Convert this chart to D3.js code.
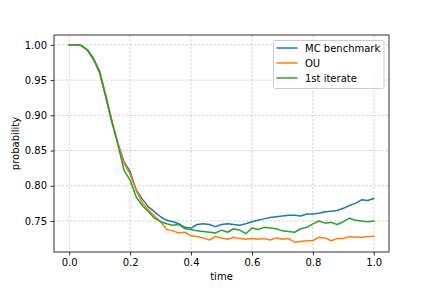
<!DOCTYPE html>
<html>
<head>
<meta charset="utf-8">
<script src="https://cdn.jsdelivr.net/npm/d3@7"></script>
<style>
  body { margin: 0; background: #fff; }
  text { font-family: "DejaVu Sans", sans-serif; }
</style>
</head>
<body>
<script>
// time grid (0 .. 1, step 0.02)
const time = [0, .02, .04, .06, .08, .10, .12, .14, .16, .18, .20, .22, .24, .26, .28, .30,
  .32, .34, .36, .38, .40, .42, .44, .46, .48, .50, .52, .54, .56, .58, .60, .62, .64, .66,
  .68, .70, .72, .74, .76, .78, .80, .82, .84, .86, .88, .90, .92, .94, .96, .98, 1.00];

const mcBenchmark = [1.000, 1.000, 0.999, 0.992, 0.979, 0.960, 0.926, 0.890, 0.860, 0.834,
  0.820, 0.794, 0.781, 0.770, 0.763, 0.756, 0.751, 0.749, 0.746, 0.741, 0.740, 0.745,
  0.746, 0.745, 0.742, 0.745, 0.746, 0.745, 0.744, 0.746, 0.749, 0.751, 0.753, 0.755,
  0.756, 0.757, 0.758, 0.758, 0.757, 0.760, 0.760, 0.761, 0.763, 0.764, 0.765, 0.768,
  0.772, 0.775, 0.780, 0.779, 0.782];

const ou = [1.000, 1.000, 0.999, 0.993, 0.981, 0.963, 0.929, 0.893, 0.860, 0.832,
  0.816, 0.793, 0.776, 0.766, 0.757, 0.749, 0.738, 0.736, 0.733, 0.734, 0.729, 0.728,
  0.726, 0.723, 0.728, 0.726, 0.724, 0.727, 0.725, 0.724, 0.725, 0.724, 0.725, 0.723,
  0.726, 0.724, 0.725, 0.720, 0.721, 0.722, 0.722, 0.727, 0.726, 0.722, 0.725, 0.725,
  0.728, 0.727, 0.727, 0.728, 0.728];

const firstIterate = [1.000, 1.000, 0.999, 0.993, 0.980, 0.961, 0.927, 0.891, 0.858, 0.822,
  0.808, 0.784, 0.772, 0.763, 0.754, 0.749, 0.746, 0.744, 0.745, 0.739, 0.738, 0.736,
  0.735, 0.734, 0.733, 0.737, 0.734, 0.739, 0.737, 0.732, 0.740, 0.738, 0.741, 0.740,
  0.739, 0.736, 0.735, 0.734, 0.739, 0.741, 0.746, 0.750, 0.747, 0.748, 0.745, 0.749,
  0.754, 0.751, 0.750, 0.749, 0.750];

const xTicks = [0, 0.2, 0.4, 0.6, 0.8, 1.0];
const yTicks = [0.75, 0.80, 0.85, 0.90, 0.95, 1.00];

const series = [
  { name: "MC benchmark", values: mcBenchmark, color: "#1f77b4" },
  { name: "OU", values: ou, color: "#ff7f0e" },
  { name: "1st iterate", values: firstIterate, color: "#2ca02c" },
];

const width = 432;
const height = 288;
const margin = { top: 35, right: 43, bottom: 36, left: 54 };

// matplotlib-like 5% padding around the data
const yMin = d3.min(series, s => d3.min(s.values));
const yMax = d3.max(series, s => d3.max(s.values));
const yPad = (yMax - yMin) * 0.05;

const x = d3.scaleLinear()
  .domain([-0.05, 1.05])
  .range([margin.left, width - margin.right]);

const y = d3.scaleLinear()
  .domain([yMin - yPad, yMax + yPad])
  .range([height - margin.bottom, margin.top]);

const svg = d3.create("svg")
  .attr("width", width)
  .attr("height", height);

// grid
const grid = svg.append("g")
  .attr("stroke", "#a6a6a6")
  .attr("stroke-width", 0.5)
  .attr("stroke-dasharray", "2.5,1.5");
grid.selectAll(".gx").data(xTicks).join("line")
  .attr("x1", d => x(d)).attr("x2", d => x(d))
  .attr("y1", margin.top).attr("y2", height - margin.bottom);
grid.selectAll(".gy").data(yTicks).join("line")
  .attr("y1", d => y(d)).attr("y2", d => y(d))
  .attr("x1", margin.left).attr("x2", width - margin.right);

// lines
const line = d3.line()
  .x((d, i) => x(time[i]))
  .y(d => y(d));

svg.append("g")
  .attr("fill", "none")
  .attr("stroke-width", 1.5)
  .attr("stroke-linejoin", "round")
  .attr("stroke-linecap", "square")
  .selectAll("path")
  .data(series)
  .join("path")
  .attr("stroke", d => d.color)
  .attr("d", d => line(d.values));

// axes
const gx = svg.append("g")
  .attr("transform", `translate(0,${height - margin.bottom})`)
  .call(d3.axisBottom(x).tickValues(xTicks).tickFormat(d3.format(".1f"))
    .tickSize(3.5).tickPadding(3.5));

const gy = svg.append("g")
  .attr("transform", `translate(${margin.left},0)`)
  .call(d3.axisLeft(y).tickValues(yTicks).tickFormat(d3.format(".2f"))
    .tickSize(3.5).tickPadding(3.5));

for (const g of [gx, gy]) {
  g.select(".domain").remove();
  g.selectAll("line").attr("stroke", "#000").attr("stroke-width", 0.8);
  g.selectAll("text").attr("font-size", 10).attr("fill", "#000")
    .attr("font-family", "DejaVu Sans");
}

// spines
svg.append("rect")
  .attr("x", margin.left)
  .attr("y", margin.top)
  .attr("width", width - margin.left - margin.right)
  .attr("height", height - margin.top - margin.bottom)
  .attr("fill", "none")
  .attr("stroke", "#000")
  .attr("stroke-width", 0.8);

// axis labels
svg.append("text")
  .attr("x", (margin.left + width - margin.right) / 2)
  .attr("y", 280)
  .attr("text-anchor", "middle")
  .attr("font-size", 10)
  .text("time");

svg.append("text")
  .attr("transform", `translate(19,${(margin.top + height - margin.bottom) / 2}) rotate(-90)`)
  .attr("text-anchor", "middle")
  .attr("font-size", 10)
  .text("probability");

// legend
const legend = svg.append("g").attr("transform", "translate(273.5,40.5)");
legend.append("rect")
  .attr("width", 110.5)
  .attr("height", 48)
  .attr("rx", 2)
  .attr("fill", "#fff")
  .attr("fill-opacity", 0.8)
  .attr("stroke", "#ccc")
  .attr("stroke-width", 1);

const item = legend.selectAll(".item")
  .data(series)
  .join("g")
  .attr("transform", (d, i) => `translate(0,${7.5 + i * 15})`);
item.append("line")
  .attr("x1", 3).attr("x2", 24)
  .attr("stroke", d => d.color)
  .attr("stroke-width", 1.5);
item.append("text")
  .attr("x", 31.5)
  .attr("dy", "0.35em")
  .attr("font-size", 10)
  .text(d => d.name);

document.body.appendChild(svg.node());
</script>
</body>
</html>
